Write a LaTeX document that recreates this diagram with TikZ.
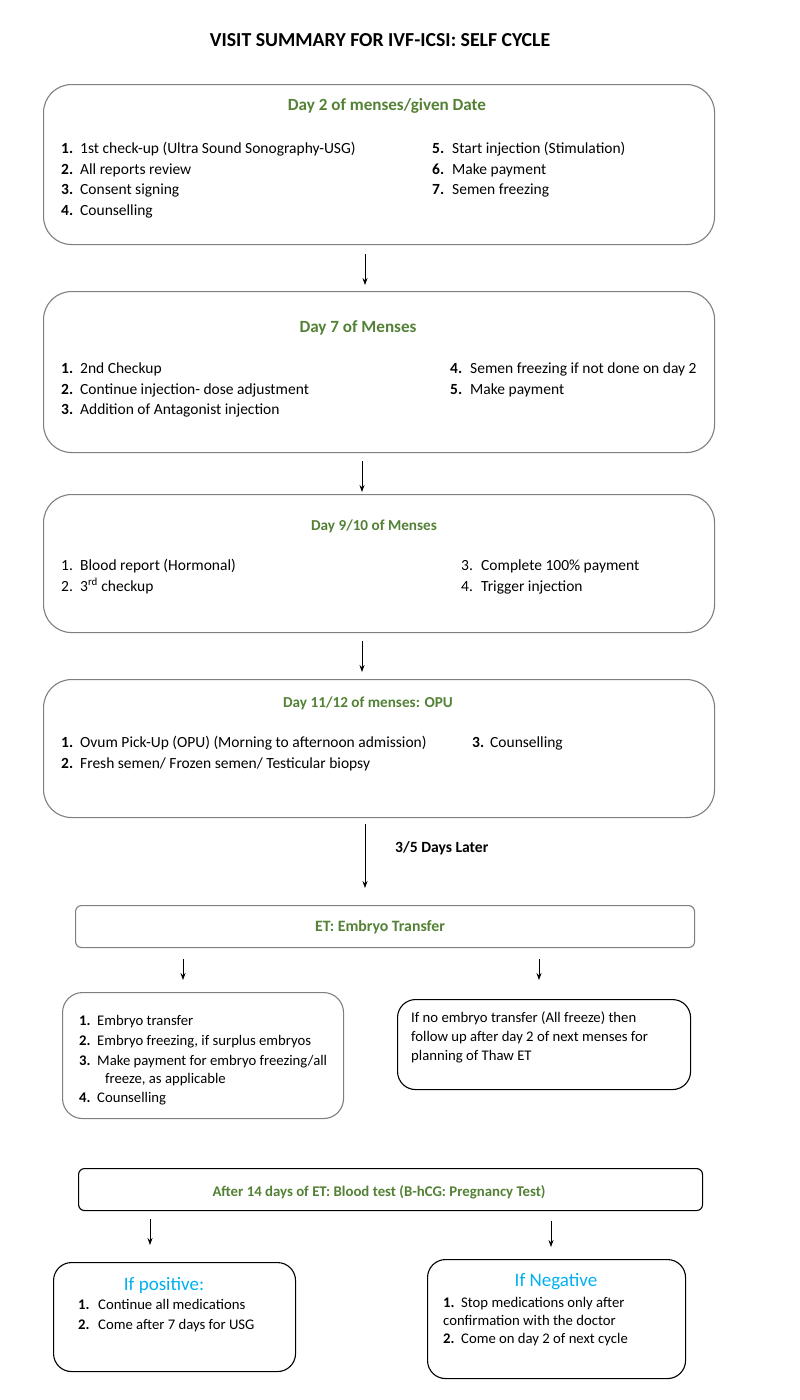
\documentclass[tikz,border=0pt]{standalone}
\usepackage{fontspec}
\setmainfont{Carlito}
\usetikzlibrary{arrows.meta}
\definecolor{hdgreen}{HTML}{538135}
\definecolor{ifblue}{HTML}{00B0F0}
\definecolor{boxgray}{HTML}{7F7F7F}
\newcommand{\itm}[3][20pt]{\makebox[#1][l]{\textbf{#2}}#3}
\newcommand{\itp}[3][20pt]{\makebox[#1][l]{#2}#3}
\begin{document}
\begin{tikzpicture}[x=1pt,y=-1pt,
  bigbox/.style={draw=boxgray,line width=1.1pt,rounded corners=28pt,anchor=north west,inner sep=0pt},
  flatbox/.style={draw=boxgray,line width=1.1pt,rounded corners=6pt,anchor=north west,inner sep=0pt},
  blkbox/.style={draw=black,line width=1.1pt,rounded corners=18pt,anchor=north west,inner sep=0pt},
  blkflat/.style={draw=black,line width=1.1pt,rounded corners=6pt,anchor=north west,inner sep=0pt},
  txt/.style={anchor=west,inner sep=0pt,font=\fontsize{15.5}{18}\selectfont,text height=11pt,text depth=3pt},
  txs/.style={anchor=west,inner sep=0pt,font=\fontsize{14.7}{17}\selectfont,text height=10.5pt,text depth=3pt},
  hd/.style={inner sep=0pt,font=\fontsize{17.1}{20}\selectfont\bfseries,text=hdgreen},
  hds/.style={inner sep=0pt,font=\fontsize{15.2}{18}\selectfont\bfseries,text=hdgreen},
  ifh/.style={inner sep=0pt,font=\fontsize{19}{22}\selectfont,text=ifblue},
  arr/.style={-{Stealth[length=7pt,width=5pt]},line width=0.8pt}]
\useasboundingbox (0,0) rectangle (800,1400);

\node[inner sep=0pt,font=\fontsize{19.8}{23}\selectfont\bfseries] (title) at (380,40) {VISIT SUMMARY FOR IVF-ICSI: SELF CYCLE};

% Box 1
\node[bigbox,minimum width=671pt,minimum height=160pt] (b1) at (43,84) {};
\node[hd] (b1h) at (387,106) {Day 2 of menses/given Date};
\node[txt] (b1a) at (61,149) {\itm[19pt]{1.}{1st check-up (Ultra Sound Sonography-USG)}};
\node[txt] (b1b) at (61,170) {\itm[19pt]{2.}{All reports review}};
\node[txt] (b1c) at (61,190) {\itm[19pt]{3.}{Consent signing}};
\node[txt] (b1d) at (61,211) {\itm[19pt]{4.}{Counselling}};
\node[txt] (b1e) at (432,149) {\itm{5.}{Start injection (Stimulation)}};
\node[txt] (b1f) at (432,170) {\itm{6.}{Make payment}};
\node[txt] (b1g) at (432,190) {\itm{7.}{Semen freezing}};

% Box 2
\node[bigbox,minimum width=671pt,minimum height=161pt] (b2) at (43,291) {};
\node[hd] (b2h) at (358,328) {Day 7 of Menses};
\node[txt] (b2a) at (61,369) {\itm[19pt]{1.}{2nd Checkup}};
\node[txt] (b2b) at (61,390) {\itm[19pt]{2.}{Continue injection- dose adjustment}};
\node[txt] (b2c) at (61,410) {\itm[19pt]{3.}{Addition of Antagonist injection}};
\node[txt] (b2d) at (450,369) {\itm{4.}{Semen freezing if not done on day 2}};
\node[txt] (b2e) at (450,390) {\itm{5.}{Make payment}};

% Box 3
\node[bigbox,minimum width=671pt,minimum height=138pt] (b3) at (43,494) {};
\node[hds] (b3h) at (374,526) {Day 9/10 of Menses};
\node[txt] (b3a) at (61,566) {\itp[19pt]{1.}{Blood report (Hormonal)}};
\node[txt] (b3b) at (61,587) {\itp[19pt]{2.}{3\textsuperscript{rd} checkup}};
\node[txt] (b3c) at (461,566) {\itp{3.}{Complete 100\% payment}};
\node[txt] (b3d) at (461,587) {\itp{4.}{Trigger injection}};

% Box 4
\node[bigbox,minimum width=671pt,minimum height=138pt] (b4) at (43,679) {};
\node[hds] (b4h) at (368,703) {Day 11/12 of menses: OPU};
\node[txt] (b4a) at (61,743) {\itm[19pt]{1.}{Ovum Pick-Up (OPU) (Morning to afternoon admission)}};
\node[txt] (b4b) at (61,764) {\itm[19pt]{2.}{Fresh semen/ Frozen semen/ Testicular biopsy}};
\node[txt] (b4c) at (472,743) {\itm[18pt]{3.}{Counselling}};

% ET box
\node[flatbox,minimum width=619pt,minimum height=42pt] (et) at (75,905) {};
\node[inner sep=0pt,font=\fontsize{15.8}{18}\selectfont\bfseries,text=hdgreen] (eth) at (380,927) {ET: Embryo Transfer};

% ET left box
\node[bigbox,rounded corners=20pt,minimum width=281pt,minimum height=126pt] (etl) at (62,992) {};
\node[txs] (etla) at (79,1022) {\itm[18pt]{1.}{Embryo transfer}};
\node[txs] (etlb) at (79,1042) {\itm[18pt]{2.}{Embryo freezing, if surplus embryos}};
\node[txs] (etlc) at (79,1062) {\itm[18pt]{3.}{Make payment for embryo freezing/all}};
\node[txs] (etlc2) at (105,1080) {freeze, as applicable};
\node[txs] (etld) at (79,1099) {\itm[18pt]{4.}{Counselling}};

% ET right box
\node[blkbox,minimum width=293pt,minimum height=90pt] (etr) at (397,999) {};
\node[txs] (etra) at (411,1019) {If no embryo transfer (All freeze) then};
\node[txs] (etrb) at (411,1038) {follow up after day 2 of next menses for};
\node[txs] (etrc) at (411,1057) {planning of Thaw ET};

% After 14 days box
\node[blkflat,minimum width=624pt,minimum height=42pt] (bt) at (78,1168) {};
\node[inner sep=0pt,font=\fontsize{14.8}{17}\selectfont\bfseries,text=hdgreen] (bth) at (379,1192) {After 14 days of ET: Blood test (B-hCG: Pregnancy Test)};

% Positive box
\node[blkbox,minimum width=242pt,minimum height=109pt] (pos) at (53,1262) {};
\node[ifh] (posh) at (164,1285) {If positive:};
\node[txs] (posa) at (78,1306) {\itm{1.}{Continue all medications}};
\node[txs] (posb) at (78,1326) {\itm{2.}{Come after 7 days for USG}};

% Negative box
\node[blkbox,minimum width=258pt,minimum height=119pt] (neg) at (427,1259) {};
\node[ifh] (negh) at (556,1282) {If Negative};
\node[txs] (nega) at (443,1304) {\itm[18pt]{1.}{Stop medications only after}};
\node[txs] (negb) at (443,1322) {confirmation with the doctor};
\node[txs] (negc) at (443,1340) {\itm[18pt]{2.}{Come on day 2 of next cycle}};

% arrow x positions
\coordinate (x1) at (365,0);
\coordinate (x2) at (362,0);
\coordinate (x3) at (365,0);
\coordinate (xl) at (183,0);
\coordinate (xr) at (539,0);
\coordinate (xpl) at (150,0);
\coordinate (xpr) at (551,0);

\draw[arr,shorten <=9pt,shorten >=6pt] (b1.south -| x1) -- (b2.north -| x1);
\draw[arr,shorten <=8pt,shorten >=2pt] (b2.south -| x2) -- (b3.north -| x2);
\draw[arr,shorten <=8pt,shorten >=7pt] (b3.south -| x2) -- (b4.north -| x2);
\draw[arr,shorten <=6pt,shorten >=17pt] (b4.south -| x3) -- (et.north -| x3);
\node[inner sep=0pt,font=\fontsize{15.6}{18}\selectfont\bfseries,anchor=west] (lat) at (395,848) {3/5 Days Later};
\draw[arr,shorten <=11pt,shorten >=12pt] (et.south -| xl) -- (etl.north -| xl);
\draw[arr,shorten <=11pt,shorten >=19pt] (et.south -| xr) -- (etr.north -| xr);
\draw[arr,shorten <=8pt,shorten >=17pt] (bt.south -| xpl) -- (pos.north -| xpl);
\draw[arr,shorten <=10pt,shorten >=12pt] (bt.south -| xpr) -- (neg.north -| xpr);
\end{tikzpicture}
\end{document}
